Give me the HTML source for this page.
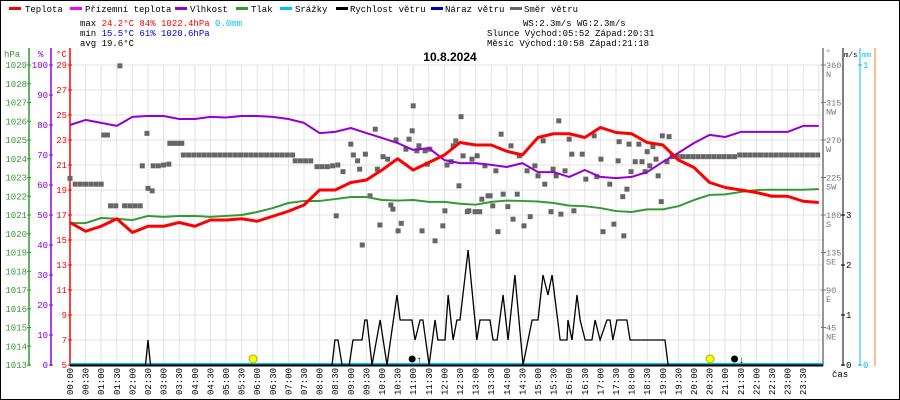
<!DOCTYPE html>
<html><head><meta charset="utf-8"><style>
html,body{margin:0;padding:0;background:#fff}
svg{display:block;font-family:"Liberation Mono",monospace}
</style></head><body>
<svg id="chart" width="900" height="400" viewBox="0 0 900 400" xmlns="http://www.w3.org/2000/svg">
<rect x="0.5" y="0.5" width="899" height="399" fill="#fff" stroke="#000"/>
<g id="grid"></g>
<g font-size="9" fill="#000">
 <g><rect x="9" y="7" width="12" height="3" fill="#f00"/><text x="25" y="12">Teplota</text></g>
 <g><rect x="70" y="7" width="12" height="3" fill="#f0f"/><text x="85" y="12">Přízemní teplota</text></g>
 <g><rect x="175" y="7" width="12" height="3" fill="#9400d3"/><text x="190" y="12">Vlhkost</text></g>
 <g><rect x="236" y="7" width="12" height="3" fill="#339933"/><text x="251" y="12">Tlak</text></g>
 <g><rect x="280" y="7" width="12" height="3" fill="#00bfff"/><text x="295" y="12">Srážky</text></g>
 <g><rect x="336" y="7" width="12" height="3" fill="#000"/><text x="350" y="12">Rychlost větru</text></g>
 <g><rect x="431" y="7" width="12" height="3" fill="#0000c0"/><text x="445" y="12">Náraz větru</text></g>
 <g><rect x="510" y="7" width="12" height="3" fill="#666"/><text x="524" y="12">Směr větru</text></g>
</g>
<g font-size="9">
 <text x="80" y="26">max <tspan fill="#f00">24.2°C  84%  1022.4hPa</tspan>   <tspan fill="#00bfff">0.0mm</tspan></text>
 <text x="80" y="36">min <tspan fill="#00c">15.5°C  61%  1020.6hPa</tspan></text>
 <text x="80" y="46">avg 19.6°C</text>
 <text x="523" y="26">WS:2.3m/s   WG:2.3m/s</text>
 <text x="487" y="36">Slunce Východ:05:52  Západ:20:31</text>
 <text x="487" y="46">Měsíc  Východ:10:58  Západ:21:18</text>
</g>
<text x="450" y="61" text-anchor="middle" font-size="12" font-weight="bold" font-family="Liberation Sans, sans-serif">10.8.2024</text>
<g id="axes" font-size="9"></g>
<g id="series"></g>
</svg>
<script>
const tempVals=[16.4,15.7,16.1,16.7,15.6,16.1,16.1,16.4,16.1,16.6,16.6,16.7,16.5,16.9,17.3,17.8,19.0,19.0,19.6,19.8,20.6,21.5,20.6,21.2,21.8,22.8,22.6,22.6,22.1,21.8,23.2,23.5,23.5,23.2,24.0,23.6,23.5,22.8,22.6,21.4,20.8,19.6,19.2,19.0,18.8,18.5,18.5,18.1,18.0];
const humVals=[80,81.7,80.7,79.7,82.7,83,83,82,82,82.7,82.5,83,83,82.7,82,80.7,77.3,77.7,79,77.3,75.7,74,71.7,72.3,68.3,67.3,67.3,66.7,66,67.3,64.3,64.3,62.7,65,62.7,62.3,62.7,64.3,67.7,70.7,74,76.7,76,77.7,77.7,77.7,77.7,79.7,79.7];
const presVals=[1020.57,1020.57,1020.84,1020.8,1020.73,1020.95,1020.9,1020.95,1020.95,1020.9,1020.95,1021.0,1021.16,1021.37,1021.64,1021.75,1021.75,1021.85,1021.96,1021.96,1021.8,1021.77,1021.8,1021.7,1021.7,1021.6,1021.55,1021.7,1021.77,1021.75,1021.72,1021.64,1021.5,1021.47,1021.37,1021.21,1021.16,1021.3,1021.3,1021.47,1021.8,1022.07,1022.1,1022.23,1022.33,1022.35,1022.35,1022.35,1022.38];
const windTimes=[0,2.42,2.5,2.58,8.4,8.49,8.59,8.72,8.95,9.07,9.36,9.45,9.52,9.68,9.94,10.16,10.48,10.58,10.96,11.06,11.22,11.31,11.51,11.7,11.79,12.02,12.12,12.28,12.4,12.5,12.76,13.04,13.14,13.46,13.56,13.69,13.88,14.04,14.26,14.52,14.81,15.0,15.16,15.32,15.45,15.71,15.93,15.96,16.09,16.25,16.35,16.51,16.73,16.83,16.99,17.21,17.31,17.4,17.53,17.85,17.95,19.07,19.17,24];
const windVals=[0,0,0.5,0,0,0.5,0.5,0,0,0.5,0.5,0.9,0.9,0,0.9,0,1.4,0.9,0.9,0.5,0.9,0.9,0,0.9,0.5,0.5,1.4,0.5,0.9,0.9,2.3,0.5,0.9,0.9,0.5,0.5,1.4,0.5,1.8,0,0.9,0.9,1.8,1.4,1.8,0.5,0.5,0.9,0.5,1.4,0.9,0.5,0.5,0.9,0.5,0.9,0.9,0.5,0.9,0.9,0.5,0.5,0,0];
const dirTimes=[0,10,20,30,40,50,60,65,72,78,88,96,105,115,125,135,139,148,150,158,160,170,180,190,192,200,208,215,218,228,238,248,258,268,278,288,298,308,318,328,338,348,358,368,378,388,398,408,418,428,433,443,453,463,475,485,495,505,512,515,525,540,545,553,557,562,568,577,587,591,596,602,611,617,621,627,631,637,646,652,658,660,667,671,677,683,687,692,702,717,721,725,733,737,742,748,752,756,764,767,773,779,783,788,792,798,804,808,813,819,823,829,833,842,848,852,860,864,873,879,885,894,900,910,913,925,929,935,940,944,952,960,965,969,985,992,1008,1013,1021,1025,1038,1046,1054,1056,1063,1065,1071,1075,1079,1087,1094,1100,1106,1110,1115,1121,1127,1131,1137,1139,1148,1152,1158,1168,1178,1188,1198,1208,1218,1228,1238,1248,1258,1268,1278,1288,1298,1308,1318,1328,1338,1348,1358,1368,1378,1388,1398,1408,1418,1428,1438];
const dirVals=[224,217,217,217,217,217,217,276,276,191,191,359,191,191,191,191,239,278,212,209,239,239,240,241,266,266,266,266,252,252,252,252,252,252,252,252,252,252,252,252,252,252,252,252,252,252,252,252,252,252,245,245,245,245,238,238,238,239,179,240,232,265,252,245,235,144,253,203,283,235,168,250,247,192,187,270,161,170,259,271,281,311,257,263,161,257,241,259,149,167,185,240,244,263,269,215,298,251,184,185,247,184,251,184,199,239,203,203,191,233,160,277,205,190,263,175,205,251,167,233,178,239,227,269,217,184,235,227,293,181,233,271,253,185,253,223,275,226,247,160,217,169,245,268,202,155,211,265,232,244,265,244,232,256,239,262,247,227,196,275,244,274,250,250,250,250,250,250,250,250,250,250,250,250,250,252,252,252,252,252,252,252,252,252,252,252,252,252,252,252,252,252];
const tempTicks=[29,27,25,23,21,19,17,15,13,11,9,7,5];
const humTicks=[100,90,80,70,60,50,40,30,20,10,0];
const presTicks=[1029,1028,1027,1026,1025,1024,1023,1022,1021,1020,1019,1018,1017,1016,1015,1014,1013];
const dirTicks=[360,315,270,225,180,135,90,45];
const dirNames=["N","NW","W","SW","S","SE","E","NE"];
const windTicks=[0,1,2,3];

const NS="http://www.w3.org/2000/svg";
const X=m=>70+m*0.52;
const yT=t=>65+(29-t)*12.5, yH=h=>65+(100-h)*3, yP=p=>65+(1029-p)*18.75;
const yW=v=>365-v*50, yD=d=>365-d*300/360;
function mk(tag,attrs,parent,txt){const e=document.createElementNS(NS,tag);for(const k in attrs)e.setAttribute(k,attrs[k]);if(txt!==undefined)e.textContent=txt;parent.appendChild(e);return e;}
const grid=document.getElementById('grid'),axes=document.getElementById('axes'),series=document.getElementById('series');
for(let k=0;k<=48;k++){const l=mk('line',{x1:X(k*30),x2:X(k*30),y1:65,y2:365,stroke:'#e6e0e0'},grid);

}
tempTicks.forEach(t=>{const l=mk('line',{x1:70,x2:823,y1:yT(t),y2:yT(t),stroke:'#e6e0e0'},grid);

});
mk('line',{x1:29,x2:29,y1:48,y2:366,stroke:'#339933','stroke-width':1.5},axes);
mk('line',{x1:51,x2:51,y1:48,y2:366,stroke:'#9400d3','stroke-width':1.5},axes);
mk('line',{x1:70,x2:70,y1:48,y2:366,stroke:'#f00','stroke-width':1.5},axes);
mk('text',{x:4,y:57,fill:'#339933'},axes,'hPa');
mk('text',{x:38,y:57,fill:'#9400d3'},axes,'%');
mk('text',{x:56,y:57,fill:'#f00'},axes,'°C');
presTicks.forEach(p=>{const t=mk('text',{x:27,y:yP(p)+3,fill:'#339933','text-anchor':'end'},axes,String(p));


mk('line',{x1:27,x2:31,y1:yP(p),y2:yP(p),stroke:'#339933'},axes);});
humTicks.forEach(h=>{const t=mk('text',{x:48,y:yH(h)+3,fill:'#9400d3','text-anchor':'end'},axes,String(h));


mk('line',{x1:49,x2:53,y1:yH(h),y2:yH(h),stroke:'#9400d3'},axes);});
tempTicks.forEach(v=>{const t=mk('text',{x:67,y:yT(v)+3,fill:'#f00','text-anchor':'end'},axes,String(v));


mk('line',{x1:68,x2:72,y1:yT(v),y2:yT(v),stroke:'#f00'},axes);});
mk('line',{x1:823,x2:823,y1:48,y2:366,stroke:'#777','stroke-width':1.5},axes);
mk('text',{x:826,y:55,fill:'#777','font-size':8},axes,'°');
dirTicks.forEach((d,i)=>{const t=mk('text',{x:826,y:yD(d)+3,fill:'#777','font-size':8.5},axes,String(d));


mk('text',{x:826,y:yD(d)+12,fill:'#777','font-size':8.5},axes,dirNames[i]);
mk('line',{x1:821,x2:826,y1:yD(d),y2:yD(d),stroke:'#777'},axes);});
mk('line',{x1:843,x2:843,y1:48,y2:366,stroke:'#000','stroke-width':1},axes);
mk('text',{x:844,y:57,fill:'#000','font-size':7.5},axes,'m/s');
windTicks.forEach(v=>{const t=mk('text',{x:846,y:yW(v)+3,fill:'#000'},axes,String(v));


mk('line',{x1:841,x2:845,y1:yW(v),y2:yW(v),stroke:'#000'},axes);});
mk('line',{x1:860,x2:860,y1:48,y2:366,stroke:'#00bfff','stroke-width':1},axes);
mk('text',{x:862,y:57,fill:'#00bfff','font-size':7.5},axes,'mm');
mk('text',{x:863,y:68,fill:'#00bfff'},axes,'1');
mk('text',{x:863,y:368,fill:'#00bfff'},axes,'0');
mk('line',{x1:858,x2:862,y1:65,y2:65,stroke:'#00bfff'},axes);
mk('line',{x1:858,x2:862,y1:365,y2:365,stroke:'#00bfff'},axes);
mk('line',{x1:875,x2:875,y1:48,y2:366,stroke:'#f08020','stroke-width':1},axes);
for(let k=0;k<48;k++){const m=k*30,hh=String(Math.floor(m/60)).padStart(2,'0'),mm=m%60?'30':'00';
const t=mk('text',{transform:`translate(${X(m)+3},395) rotate(-90)`,fill:'#000','font-size':9},axes,hh+':'+mm);

}
mk('text',{x:832,y:377,fill:'#000'},axes,'čas');
dirTimes.forEach((m,i)=>{const r=mk('rect',{x:X(m)-2.5,y:yD(dirVals[i])-2.5,width:5,height:5,fill:'#666'},series);

});
function line(vals,yf,color,w,name){const pts=vals.map((v,i)=>X(i*30)+','+yf(v)).join(' ');
const p=mk('polyline',{points:pts,fill:'none',stroke:color,'stroke-width':w,'stroke-linejoin':'round'},series);

}
line(presVals,yP,'#339933',2,'pressure-line');
line(humVals,yH,'#9400d3',2,'humidity-line');
line(tempVals,yT,'#f00',3,'temperature-line');
const rl=mk('line',{x1:70,x2:823,y1:364,y2:364,stroke:'#00bfff','stroke-width':2},series);


const wp=mk('polyline',{points:windTimes.map((h,i)=>X(h*60)+','+yW(windVals[i])).join(' '),fill:'none',stroke:'#000','stroke-width':1.3},series);


const wb=mk('line',{x1:70,x2:823,y1:365.5,y2:365.5,stroke:'#000','stroke-width':2},series);


[[352,'#ff0','sunrise-marker'],[1231,'#ff0','sunset-marker']].forEach(s=>{const c=mk('circle',{cx:X(s[0]),cy:359,r:4,fill:s[1],stroke:'#aa0'},series);

});
[[658,'moonrise-marker','↑'],[1278,'moonset-marker','↓']].forEach(s=>{const c=mk('circle',{cx:X(s[0]),cy:359,r:3.5,fill:'#000'},series);


mk('text',{x:X(s[0])+4,y:363,'font-size':10,fill:'#000'},series,s[2]);});
</script>
</body></html>
